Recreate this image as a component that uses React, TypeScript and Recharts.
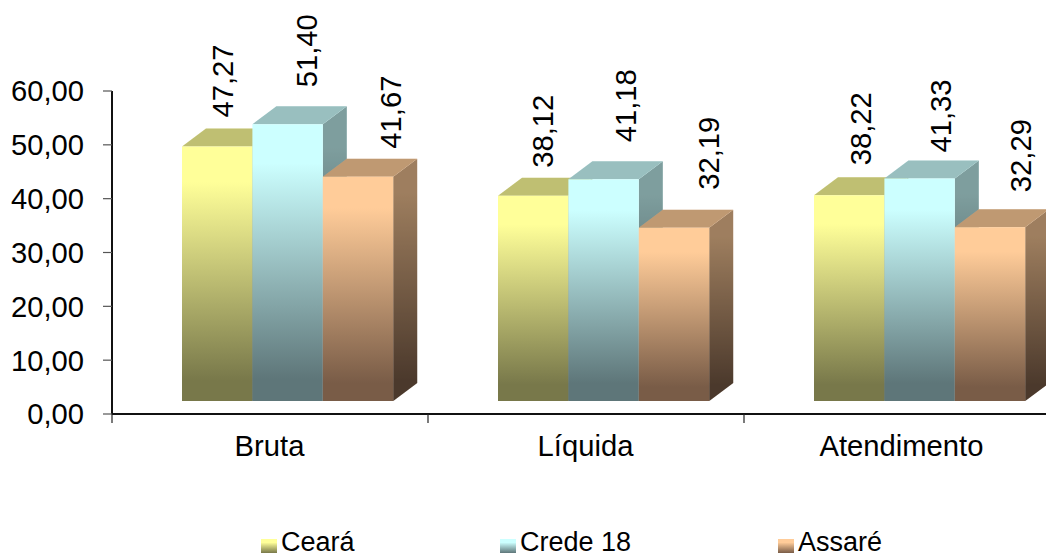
import { BarChart, Bar, XAxis, YAxis, Legend, LabelList } from "recharts";

const categories = ["Bruta", "Líquida", "Atendimento"];
const ceara = [47.27, 38.12, 38.22];
const crede18 = [51.4, 41.18, 41.33];
const assare = [41.67, 32.19, 32.29];
const yTicks = [0, 10, 20, 30, 40, 50, 60];

const data = categories.map((name, i) => ({
  name,
  ceara: ceara[i],
  crede18: crede18[i],
  assare: assare[i],
}));

const FONT = "'Liberation Sans', Arial, sans-serif";

// front face colours, top then bottom
const series = [
  { key: "ceara", name: "Ceará", top: "#ffff99", bottom: "#78784a" },
  { key: "crede18", name: "Crede 18", top: "#ccffff", bottom: "#5e7679" },
  { key: "assare", name: "Assaré", top: "#ffcc99", bottom: "#795c47" },
];

// the 3D box is pushed off the band a bit, like the old office charts
const SHIFT_X = 18;
const SHIFT_Y = -13;
const DEPTH_X = 24;
const DEPTH_Y = 18;

// hand placed labels: [distance from bar's left edge, gap above the box]
const labelPlace: Record<string, number[][]> = {
  ceara: [[41, 11], [45, 10], [47, 12]],
  crede18: [[55, 19], [58, 19], [57, 8]],
  assare: [[68, 10], [70, 20], [66, 17]],
};

function Box3D(props: any) {
  const { x, y, width, height, dataKey } = props;
  const s = series.find((d) => d.key === dataKey)!;
  const left = x + SHIFT_X;
  const right = left + width;
  const top = y + SHIFT_Y;
  const base = y + height + SHIFT_Y;
  const sidePts = `${right},${top} ${right + DEPTH_X},${top - DEPTH_Y} ${right + DEPTH_X},${base - DEPTH_Y} ${right},${base}`;
  const topPts = `${left},${top} ${left + DEPTH_X},${top - DEPTH_Y} ${right + DEPTH_X},${top - DEPTH_Y} ${right},${top}`;
  return (
    <g>
      <polygon points={sidePts} fill={`url(#front-${s.key})`} />
      <polygon points={sidePts} fill="#000" fillOpacity={0.38} />
      <polygon points={topPts} fill={s.top} />
      <polygon points={topPts} fill="#000" fillOpacity={0.25} />
      <rect x={left} y={top} width={width} height={height} fill={`url(#front-${s.key})`} />
    </g>
  );
}

function makeLabel(key: string) {
  return function RotatedLabel(props: any) {
    const { value, index } = props;
    const box = props.viewBox ?? props;
    const [dx, gap] = labelPlace[key][index];
    const cx = box.x + SHIFT_X + dx;
    const by = box.y + SHIFT_Y - DEPTH_Y - gap;
    const px = cx + 10;
    return (
      <text
        x={px}
        y={by}
        transform={`rotate(-90 ${px} ${by})`}
        fontFamily={FONT}
        fontSize={29.2}
        fill="#000"
      >
        {Number(value).toFixed(2).replace(".", ",")}
      </text>
    );
  };
}

function CategoryTick(props: any) {
  const { x, y, payload } = props;
  return (
    <g>
      <line x1={x - 158} x2={x - 158} y1={414} y2={423} stroke="#222" strokeWidth={1.2} />
      <text x={x - 0.5} y={y + 34} textAnchor="middle" fontFamily={FONT} fontSize={29.2} fill="#000">
        {payload.value}
      </text>
    </g>
  );
}

function LegendRow() {
  const spots = [261, 500, 778];
  return (
    <div style={{ position: "relative", height: 26, fontFamily: FONT, fontSize: 27, color: "#000" }}>
      {series.map((s, i) => (
        <div key={s.key} style={{ position: "absolute", left: spots[i], top: 0, display: "flex", alignItems: "center", lineHeight: "26px", whiteSpace: "nowrap" }}>
          <span style={{ position: "relative", top: 2, width: 16, height: 14, marginTop: 3, marginRight: 4, background: `linear-gradient(${s.top} 25%, ${s.bottom})` }} />
          {s.name}
        </div>
      ))}
    </div>
  );
}

export default function App() {
  return (
    <div style={{ position: "absolute", left: 0, top: 0, width: 1046, height: 557, overflow: "hidden", background: "#fff" }}>
      <BarChart
        width={1060}
        height={557}
        data={data}
        margin={{ top: 91, right: 0, bottom: 83, left: 0 }}
        barCategoryGap={0}
        barGap={0}
        style={{ overflow: "visible" }}
      >
        <defs>
          {series.map((s) => (
            <linearGradient key={s.key} id={`front-${s.key}`} x1="0" y1="0" x2="0" y2="1">
              <stop offset="0" stopColor={s.top} />
              <stop offset="0.14" stopColor={s.top} />
              <stop offset="0.92" stopColor={s.bottom} />
              <stop offset="1" stopColor={s.bottom} />
            </linearGradient>
          ))}
        </defs>
        <XAxis
          dataKey="name"
          height={60}
          tickLine={false}
          axisLine={{ stroke: "#111", strokeWidth: 2 }}
          tick={<CategoryTick />}
          interval={0}
        />
        <YAxis
          width={112}
          domain={[0, 60]}
          ticks={yTicks}
          tickSize={9}
          tickMargin={19}
          tickFormatter={(v: number) => v.toFixed(2).replace(".", ",")}
          axisLine={{ stroke: "#111", strokeWidth: 2 }}
          tickLine={{ stroke: "#555", strokeWidth: 1.2 }}
          tick={{ fontFamily: FONT, fontSize: 29.2, fill: "#000" }}
        />
        <Legend
          layout="horizontal"
          verticalAlign="middle"
          align="center"
          content={<LegendRow />}
          wrapperStyle={{ position: "absolute", left: 0, top: 529, width: 1046, height: 26, margin: 0 }}
        />
        {series.map((s) => (
          <Bar key={s.key} dataKey={s.key} name={s.name} barSize={70.4} fill={s.top} shape={<Box3D />} isAnimationActive={false}>
            <LabelList dataKey={s.key} content={makeLabel(s.key)} />
          </Bar>
        ))}
      </BarChart>
    </div>
  );
}
